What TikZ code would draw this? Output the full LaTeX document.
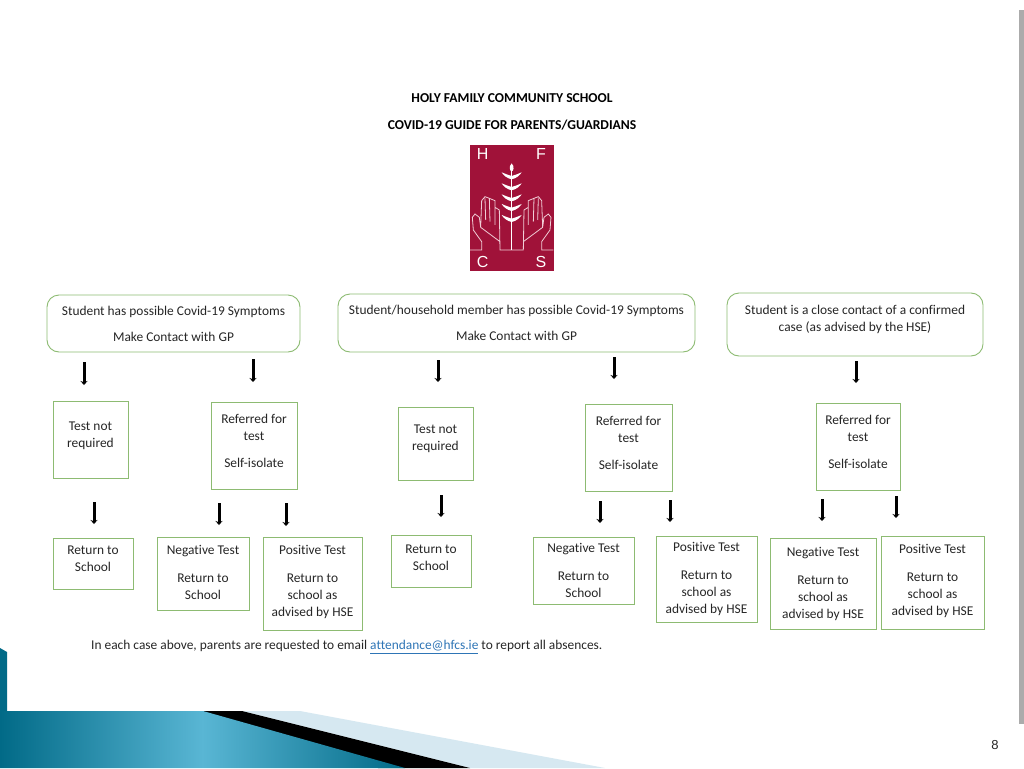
\documentclass[tikz,border=0pt]{standalone}
\usepackage{fontspec}
\setmainfont{Carlito}[Ligatures=NoCommon]
\newfontfamily\logofont{Liberation Sans}
\usetikzlibrary{positioning, arrows.meta}
\definecolor{boxgreen}{HTML}{8DBB72}
\definecolor{logored}{HTML}{A01239}
\definecolor{logoline}{HTML}{F0CDD6}
\definecolor{tealdark}{HTML}{016A87}
\definecolor{teallight}{HTML}{59B6D4}
\definecolor{paleblue}{HTML}{D6E8F1}
\definecolor{linkblue}{HTML}{2E75B6}
\definecolor{bargray}{HTML}{ABABAB}
\definecolor{textgray}{HTML}{262626}
\newcommand{\handline}{
	(90,360) -- (125,360) -- (125,335) -- (100,300) -- (97,262) -- (105,252) -- (118,262) -- (122,292) -- (125,212) -- (135,200) -- (148,205) -- (165,212) -- (165,232) -- (178,240) -- (180,360) -- (215,360)
	(122,292) -- (180,335)
	(135,205) -- (137,270)
	(148,205) -- (150,275)
	(165,232) -- (165,285)
}
\begin{document}
\begin{tikzpicture}
		[
		x=1pt, y=-1pt,
		font=\fontsize{13.4}{17}\selectfont,
		text=textgray,
		box/.style ={rectangle, draw=boxgreen, line width=0.9pt, inner sep=0pt, outer sep=0pt, align=center},
		roundbox/.style ={box, rounded corners=12pt},
		flow/.style ={-{Stealth[length=4pt, width=7pt]}, line width=3pt, black},
		title/.style ={font=\fontsize{13.6}{15}\selectfont\bfseries, text=black},
		letter/.style ={font=\fontsize{16}{16}\selectfont\logofont, text=white}
		]
		\useasboundingbox (0,0) rectangle (1024,768);
		% slide background
		\fill[white] (0,0) rectangle (1024,768);
		\fill[bargray] (1019,10) rectangle (1024,724);
		\fill[tealdark] (0,648) -- (7,652) -- (7,711) -- (0,711) -- cycle;
		\fill[paleblue] (242,711) -- (300,711) -- (605,768) -- (470,768) -- cycle;
		\fill[black] (198,711) -- (242,711) -- (470,768) -- (378,768) -- cycle;
		\shade[left color=tealdark, right color=tealdark, middle color=teallight] (0,711) -- (203,711) -- (405,768) -- (0,768) -- cycle;
		\node (pageno) at (995,745) {\fontsize{13}{13}\selectfont\logofont 8};
		% heading and logo
		\node[title] (t_school) at (512,98) {HOLY FAMILY COMMUNITY SCHOOL};
		\node[title] (t_guide) at (512,125) {COVID-19 GUIDE FOR PARENTS/GUARDIANS};
		\fill[logored] (470,145) rectangle (554,271);
		\begin{scope}[shift={(440,130)}, x=0.3333pt, y=-0.3333pt]
			\node[letter] (l_h) at (128,72) {H};
			\node[letter] (l_f) at (303,72) {F};
			\node[letter] (l_c) at (128,397) {C};
			\node[letter] (l_s) at (303,397) {S};
			\draw[logoline, line width=0.8pt] \handline;
			\draw[logoline, line width=0.8pt, shift={(430,0)}, xscale=-1] \handline;
			\draw[white, line width=0.8pt] (215,120) -- (215,360);
			\fill[white] (215,100) .. controls (225,110) and (220,124) .. (215,124) .. controls (210,124) and (205,110) .. (215,100) -- cycle;
			\fill[white] (215,148) .. controls (200,145) and (190,135) .. (185,127) .. controls (197,132) and (207,136) .. (215,138) .. controls (223,136) and (233,132) .. (245,127) .. controls (240,135) and (230,145) .. (215,148) -- cycle;
			\fill[white] (215,181) .. controls (200,178) and (190,168) .. (185,160) .. controls (197,165) and (207,169) .. (215,171) .. controls (223,169) and (233,165) .. (245,160) .. controls (240,168) and (230,178) .. (215,181) -- cycle;
			\fill[white] (215,214) .. controls (200,211) and (190,201) .. (185,193) .. controls (197,198) and (207,202) .. (215,204) .. controls (223,202) and (233,198) .. (245,193) .. controls (240,201) and (230,211) .. (215,214) -- cycle;
			\fill[white] (215,243) .. controls (200,240) and (190,230) .. (185,222) .. controls (197,227) and (207,231) .. (215,233) .. controls (223,231) and (233,227) .. (245,222) .. controls (240,230) and (230,240) .. (215,243) -- cycle;
			\fill[white] (215,276) .. controls (200,273) and (190,263) .. (185,255) .. controls (197,260) and (207,264) .. (215,266) .. controls (223,264) and (233,260) .. (245,255) .. controls (240,263) and (230,273) .. (215,276) -- cycle;
		\end{scope}
		% top row
		\node[roundbox, minimum width=253pt, minimum height=57pt] (s1) at (173.5,323.5) {Student has possible Covid-19 Symptoms\\[9pt]Make Contact with GP};
		\node[roundbox, minimum width=357pt, minimum height=58pt, right=38pt of s1.north east, anchor=north west, yshift=1pt] (s2) {Student/household member has possible Covid-19 Symptoms\\[9pt]Make Contact with GP};
		\node[roundbox, minimum width=256pt, minimum height=63pt, right=32pt of s2.north east, anchor=north west, yshift=1pt] (s3) {Student is a close contact of a confirmed\\case (as advised by the HSE)\\[-5pt]};
		% middle row
		\node[box, minimum width=75pt, minimum height=77pt, below right=49pt and 6pt of s1.south west] (t1) {Test not\\required\\[-7pt]};
		\node[box, minimum width=86pt, minimum height=87pt, below right=50pt and 164pt of s1.south west] (r1) {Referred for\\test\\[10pt]Self-isolate\\[-7pt]};
		\node[box, minimum width=75pt, minimum height=73pt, below right=55pt and 60pt of s2.south west] (t2) {Test not\\required\\[-5pt]};
		\node[box, minimum width=87pt, minimum height=87pt, below right=52pt and 247pt of s2.south west] (r2) {Referred for\\test\\[10pt]Self-isolate\\[-7pt]};
		\node[box, minimum width=84pt, minimum height=87pt, below right=47pt and 89pt of s3.south west] (r3) {Referred for\\test\\[10pt]Self-isolate\\[-7pt]};
		% bottom row
		\node[box, minimum width=80pt, minimum height=51pt, below right=60pt and 0pt of t1.south west] (n1) {Return to\\School\\[-8pt]};
		\node[box, minimum width=92pt, minimum height=73pt, below right=48pt and -54pt of r1.south west] (n2) {Negative Test\\[11pt]Return to\\School\\[-15pt]};
		\node[box, minimum width=99pt, minimum height=93pt, below right=48pt and 52pt of r1.south west] (p2) {Positive Test\\[11pt]Return to\\school as\\advised by HSE\\[-11pt]};
		\node[box, minimum width=80pt, minimum height=52pt, below right=55pt and -7pt of t2.south west] (n3) {Return to\\School\\[-11pt]};
		\node[box, minimum width=101pt, minimum height=67pt, below right=46pt and -52pt of r2.south west] (n4) {Negative Test\\[11pt]Return to\\School};
		\node[box, minimum width=101pt, minimum height=86pt, below right=45pt and 71pt of r2.south west] (p4) {Positive Test\\[11pt]Return to\\school as\\advised by HSE};
		\node[box, minimum width=106pt, minimum height=91pt, below right=48pt and -46pt of r3.south west] (n5) {Negative Test\\[11pt]Return to\\school as\\advised by HSE\\[-15pt]};
		\node[box, minimum width=103pt, minimum height=93pt, below right=46pt and 65pt of r3.south west] (p5) {Positive Test\\[11pt]Return to\\school as\\advised by HSE\\[-11pt]};
		\node[anchor=west, inner sep=0pt] (note) at (91,647) {In each case above, parents are requested to email \textcolor{linkblue}{\underline{attendance@hfcs.ie}} to report all absences.};
		% arrows
		\draw[flow, shorten <=10pt, shorten >=16pt] (84,0 |- s1.south) -- (84,0 |- t1.north);
		\draw[flow, shorten <=7pt, shorten >=20pt] (253,0 |- s1.south) -- (253,0 |- r1.north);
		\draw[flow, shorten <=8pt, shorten >=25pt] (438,0 |- s2.south) -- (438,0 |- t2.north);
		\draw[flow, shorten <=5pt, shorten >=25pt] (614,0 |- s2.south) -- (614,0 |- r2.north);
		\draw[flow, shorten <=5pt, shorten >=20pt] (856,0 |- s3.south) -- (856,0 |- r3.north);
		\draw[flow, shorten <=24pt, shorten >=14pt] (94,0 |- t1.south) -- (94,0 |- n1.north);
		\draw[flow, shorten <=14pt, shorten >=12pt] (219,0 |- r1.south) -- (219,0 |- n2.north);
		\draw[flow, shorten <=14pt, shorten >=11pt] (286,0 |- r1.south) -- (286,0 |- p2.north);
		\draw[flow, shorten <=15pt, shorten >=18pt] (441,0 |- t2.south) -- (441,0 |- n3.north);
		\draw[flow, shorten <=10pt, shorten >=14pt] (600,0 |- r2.south) -- (600,0 |- n4.north);
		\draw[flow, shorten <=9pt, shorten >=14pt] (670,0 |- r2.south) -- (670,0 |- p4.north);
		\draw[flow, shorten <=9pt, shorten >=17pt] (822,0 |- r3.south) -- (822,0 |- n5.north);
		\draw[flow, shorten <=6pt, shorten >=18pt] (896,0 |- r3.south) -- (896,0 |- p5.north);
	\end{tikzpicture}
\end{document}
